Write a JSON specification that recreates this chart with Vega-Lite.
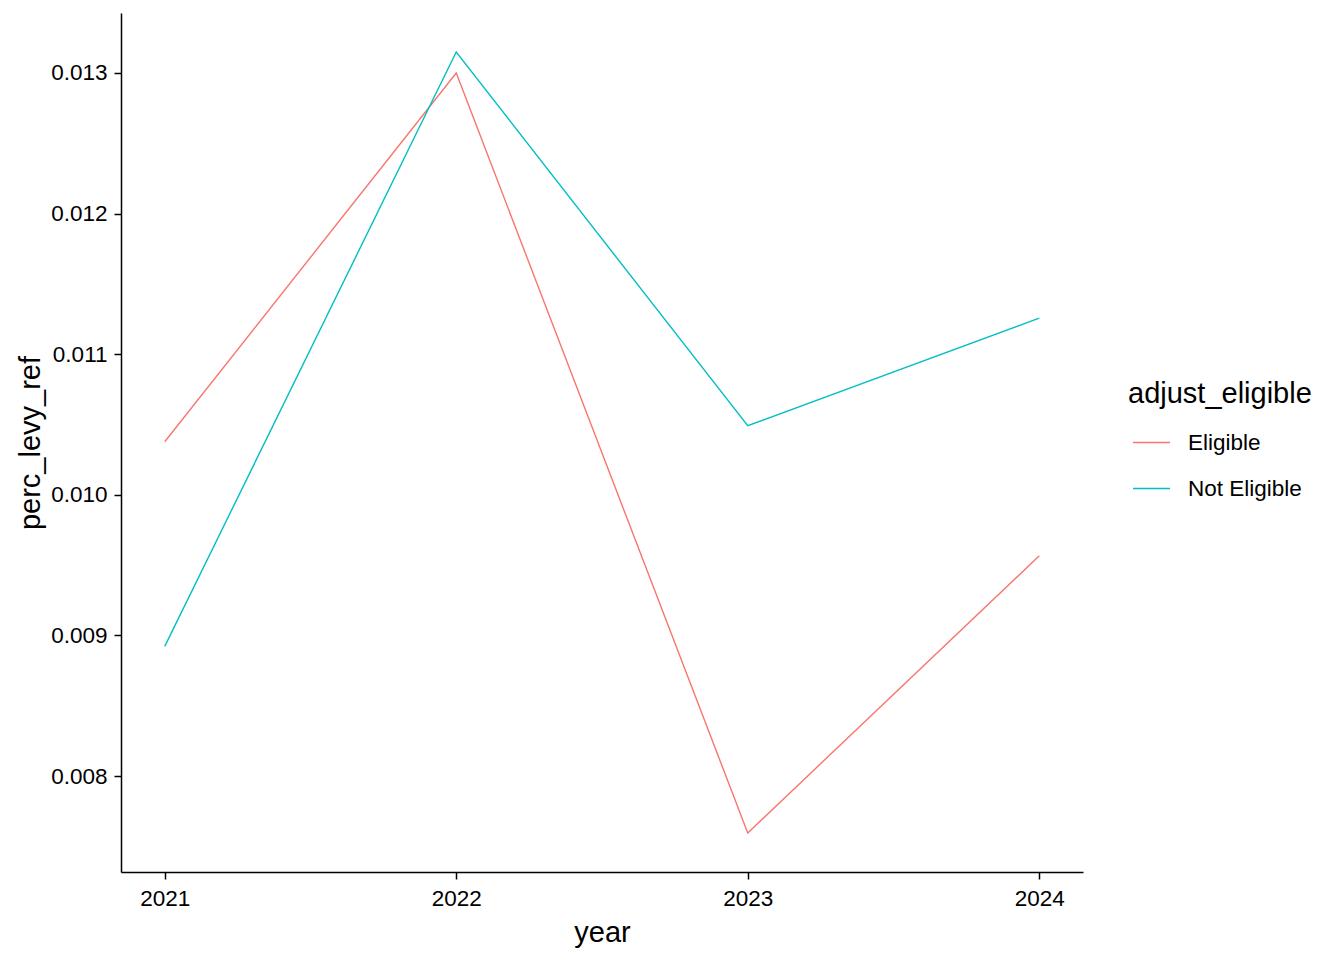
{
  "$schema": "https://vega.github.io/schema/vega-lite/v6.json",
  "autosize": {"type": "none"},
  "padding": {"left": 121, "top": 13, "right": 261, "bottom": 88},
  "width": 962,
  "height": 859,
  "background": "white",
  "data": {
    "values": [
      {"year": 2021, "adjust_eligible": "Eligible", "perc_levy_ref": 0.010377},
      {"year": 2022, "adjust_eligible": "Eligible", "perc_levy_ref": 0.013000},
      {"year": 2023, "adjust_eligible": "Eligible", "perc_levy_ref": 0.007595},
      {"year": 2024, "adjust_eligible": "Eligible", "perc_levy_ref": 0.009566},
      {"year": 2021, "adjust_eligible": "Not Eligible", "perc_levy_ref": 0.008922},
      {"year": 2022, "adjust_eligible": "Not Eligible", "perc_levy_ref": 0.013149},
      {"year": 2023, "adjust_eligible": "Not Eligible", "perc_levy_ref": 0.010491},
      {"year": 2024, "adjust_eligible": "Not Eligible", "perc_levy_ref": 0.011256}
    ]
  },
  "mark": {"type": "line", "strokeWidth": 1.4},
  "encoding": {
    "x": {
      "field": "year",
      "type": "quantitative",
      "scale": {"domain": [2020.85, 2024.15], "nice": false, "zero": false},
      "axis": {"values": [2021, 2022, 2023, 2024], "format": "d", "title": "year", "labelPadding": 8, "titlePadding": 9}
    },
    "y": {
      "field": "perc_levy_ref",
      "type": "quantitative",
      "scale": {"domain": [0.0073173, 0.0134267], "nice": false, "zero": false},
      "axis": {"values": [0.008, 0.009, 0.010, 0.011, 0.012, 0.013], "format": ".3f", "title": "perc_levy_ref", "labelPadding": 7, "titlePadding": 5}
    },
    "color": {
      "field": "adjust_eligible",
      "type": "nominal",
      "scale": {"domain": ["Eligible", "Not Eligible"], "range": ["#F8766D", "#00BFC4"]},
      "legend": {
        "title": "adjust_eligible",
        "orient": "none",
        "legendX": 1007,
        "legendY": 367,
        "titleLimit": 400,
        "labelLimit": 300,
        "symbolType": "stroke",
        "symbolSize": 1369,
        "symbolStrokeWidth": 1.5,
        "symbolOffset": 4,
        "labelOffset": 17,
        "rowPadding": 15,
        "titlePadding": 14
      }
    }
  },
  "config": {
    "font": "Liberation Sans",
    "view": {"stroke": null},
    "axis": {
      "grid": false,
      "domainColor": "black",
      "domainWidth": 1.5,
      "tickColor": "black",
      "tickWidth": 1.5,
      "tickSize": 7,
      "labelFont": "Liberation Sans",
      "labelFontSize": 22.5,
      "labelColor": "black",
      "titleFont": "Liberation Sans",
      "titleFontSize": 29,
      "titleFontWeight": "normal",
      "titleColor": "black"
    },
    "legend": {
      "titleFont": "Liberation Sans",
      "titleFontSize": 29,
      "titleFontWeight": "normal",
      "titleColor": "black",
      "labelFont": "Liberation Sans",
      "labelFontSize": 22.5,
      "labelColor": "black"
    }
  }
}
